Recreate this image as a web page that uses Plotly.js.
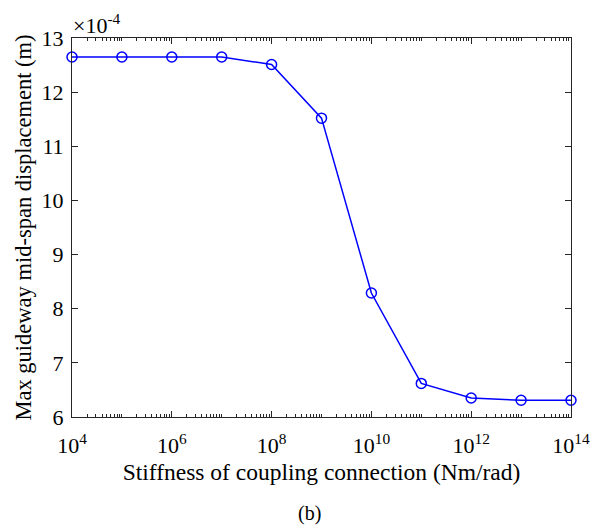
<!DOCTYPE html>
<html>
<head>
<meta charset="utf-8">
<script src="https://cdn.plot.ly/plotly-3.0.1.min.js"></script>
<style>html,body{margin:0;padding:0;background:#fff;}#chart{width:598px;height:525px;}</style>
</head>
<body>
<div id="chart"></div>
<script>
// Stiffness values (Nm/rad)
const stiffness = [1e4, 1e5, 1e6, 1e7, 1e8, 1e9, 1e10, 1e11, 1e12, 1e13, 1e14];
// Max mid-span displacement (x 1e-4 m)
const displacement = [12.65, 12.65, 12.65, 12.65, 12.51, 11.52, 8.29, 6.62, 6.35, 6.31, 6.31];
// Tick labels
const xTickVals = [1e4, 1e6, 1e8, 1e10, 1e12, 1e14];
const xTickText = ['10<sup>4</sup>', '10<sup>6</sup>', '10<sup>8</sup>', '10<sup>10</sup>', '10<sup>12</sup>', '10<sup>14</sup>'];
const yTickVals = [6, 7, 8, 9, 10, 11, 12, 13];

const minorVals = [];
for (let e = 4; e < 14; e++) {
  for (let m = 1; m <= 9; m++) {
    const v = m * Math.pow(10, e);
    if (!(m === 1 && e % 2 === 0)) minorVals.push(v);
  }
}

const font = '"Liberation Serif", serif';
const axisColor = '#262626';
const tickFs = 22;

const trace = {
  x: stiffness,
  y: displacement,
  type: 'scatter',
  mode: 'lines+markers',
  line: {color: '#0000ff', width: 1.5},
  marker: {symbol: 'circle-open', size: 10, color: '#0000ff', line: {width: 1.5, color: '#0000ff'}},
  cliponaxis: false,
  hoverinfo: 'none'
};

const layout = {
  width: 598, height: 525,
  margin: {l: 71.5, r: 27.3, t: 38, b: 108.3},
  paper_bgcolor: '#fff', plot_bgcolor: '#fff',
  showlegend: false,
  font: {family: font, size: tickFs, color: '#000'},
  xaxis: {
    type: 'log',
    range: [4, 14],
    tickmode: 'array', tickvals: xTickVals, ticktext: xTickText,
    ticks: 'inside', ticklen: 6, tickwidth: 1, tickcolor: axisColor,
    minor: {tickmode: 'array', tickvals: minorVals, ticks: 'inside', ticklen: 3, tickwidth: 1, tickcolor: axisColor, showgrid: false},
    showline: true, linecolor: axisColor, linewidth: 1, mirror: 'ticks',
    showgrid: false, zeroline: false,
    tickfont: {family: font, size: tickFs, color: '#000'},
    ticklabelstandoff: 9,
    title: {text: 'Stiffness of coupling connection (Nm/rad)', font: {family: font, size: 23.5, color: '#000'}, standoff: 6}
  },
  yaxis: {
    range: [6, 13],
    tickmode: 'array', tickvals: yTickVals,
    ticks: 'inside', ticklen: 6, tickwidth: 1, tickcolor: axisColor,
    showline: true, linecolor: axisColor, linewidth: 1, mirror: 'ticks',
    showgrid: false, zeroline: false,
    tickfont: {family: font, size: tickFs, color: '#000'},
    ticklabelstandoff: 3,
    title: {text: 'Max guideway mid-span displacement (m)', font: {family: font, size: 22.5, color: '#000'}, standoff: 3}
  },
  annotations: [
    {text: '×10<sup>-4</sup>', xref: 'paper', yref: 'paper', x: 0, y: 1, xanchor: 'left', yanchor: 'bottom', showarrow: false, font: {family: font, size: 22, color: '#000'}, xshift: -1, yshift: -2},
    {text: '(b)', xref: 'paper', yref: 'paper', x: 0.476, y: -0.255, xanchor: 'center', yanchor: 'middle', showarrow: false, font: {family: font, size: 20, color: '#000'}}
  ]
};

Plotly.newPlot('chart', [trace], layout, {displayModeBar: false, staticPlot: true});
</script>
</body>
</html>
